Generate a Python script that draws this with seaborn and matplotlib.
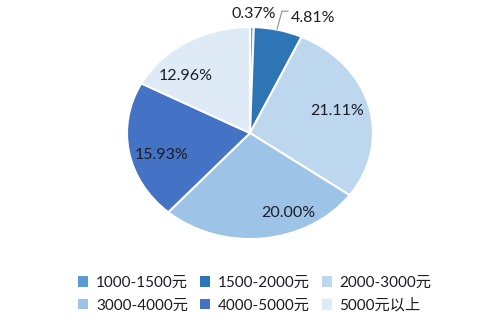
import matplotlib
matplotlib.use("Agg")
import matplotlib.pyplot as plt
import seaborn as sns
from matplotlib.patches import Patch

sns.set_theme(style="white")
plt.rcParams['font.family'] = ['Lato', 'Noto Sans CJK SC', 'DejaVu Sans']

categories = ["1000-1500元", "1500-2000元", "2000-3000元",
              "3000-4000元", "4000-5000元", "5000元以上"]
values = [0.37, 4.81, 21.11, 20.00, 15.93, 12.96]
colors = ["#5B9BD5", "#2E75B6", "#BDD7EE", "#9DC3E6", "#4472C4", "#DEEBF7"]

# label placement (normalized pie coordinates) - layout only
label_pos = [(0.03, 1.12), (0.51, 1.09), (0.71, 0.21),
             (0.31, -0.755), (-0.72, -0.21), (-0.52, 0.54)]

fig = plt.figure(figsize=(5, 3.2), dpi=100)
ax = fig.add_axes([0.254, 0.253, 0.492, 0.6625])

wedges, _ = ax.pie(values, colors=colors, startangle=90, counterclock=False,
                   wedgeprops=dict(edgecolor="white", linewidth=1.5))
ax.set_aspect("auto")
ax.set_xlim(-1, 1)
ax.set_ylim(-1, 1)

for v, (x, y) in zip(values, label_pos):
    ax.text(x, y, f"{v:.2f}%", ha="center", va="center", fontsize=11.5,
            color="#1c1c2a", clip_on=False)

# leader line for 4.81% label
ax.plot([0.31, 0.26, 0.22], [1.15, 1.15, 0.98], color="#8c8c8c", lw=0.8,
        clip_on=False)

# row-major legend ordering for 3 columns
order = [0, 3, 1, 4, 2, 5]
handles = [Patch(facecolor=colors[i], edgecolor="none") for i in order]
labels = [categories[i] for i in order]
fig.legend(handles, labels, loc="center", bbox_to_anchor=(0.51, 0.08),
           ncol=3, frameon=False, fontsize=11, handlelength=0.65,
           handleheight=0.65, handletextpad=0.5, columnspacing=0.8,
           labelspacing=0.55, labelcolor="#1c1c2a")

fig.savefig("out.png", dpi=100, facecolor="white")
